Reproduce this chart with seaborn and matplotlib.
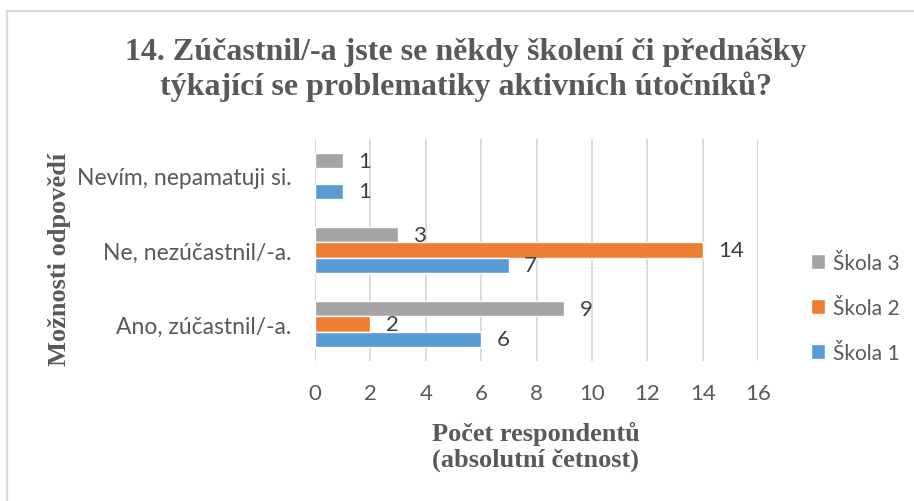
import matplotlib
matplotlib.use("Agg")
import matplotlib.pyplot as plt
import seaborn as sns
import pandas as pd
from matplotlib.patches import Rectangle

# ---- data ----
categories = ["Nevím, nepamatuji si.", "Ne, nezúčastnil/-a.", "Ano, zúčastnil/-a."]
schools = ["Škola 3", "Škola 2", "Škola 1"]
skola1 = [1, 7, 6]
skola2 = [None, 14, 2]
skola3 = [1, 3, 9]
xticks = [0, 2, 4, 6, 8, 10, 12, 14, 16]
title = "14. Zúčastnil/-a jste se někdy školení či přednášky\ntýkající se problematiky aktivních útočníků?"
xlabel = "Počet respondentů\n(absolutní četnost)"
ylabel = "Možnosti odpovědí"
colors = {"Škola 1": "#5B9BD5", "Škola 2": "#ED7D31", "Škola 3": "#A5A5A5"}

rows = []
for school, vals in (("Škola 1", skola1), ("Škola 2", skola2), ("Škola 3", skola3)):
    for c, v in zip(categories, vals):
        if v is not None:
            rows.append({"cat": c, "val": v, "school": school})
df = pd.DataFrame(rows)

sns.set_theme(style="white")
plt.rcParams['font.family'] = ['Lato', 'DejaVu Sans']
TXT = "#595959"
SERIF = ["Liberation Serif", "DejaVu Serif"]

W, H = 914, 502
fig = plt.figure(figsize=(W / 100, H / 100), dpi=100)
ax = fig.add_axes([315 / W, 1 - 362 / H, (758 - 315) / W, (362 - 140) / H])

sns.barplot(data=df, y="cat", x="val", hue="school", order=categories,
            hue_order=schools, palette=colors, orient="h", width=0.62,
            errorbar=None, saturation=1, ax=ax)

for cont in ax.containers:
    ax.bar_label(cont, padding=11, fontsize=16, color="#404040")

ax.set_xlim(0, 16)
ax.set_ylim(2.5, -0.5)
ax.set_xticks(xticks)
ax.set_xticklabels([str(t) for t in xticks])
ax.xaxis.grid(True, color="#D9D9D9", lw=1.3)
ax.yaxis.grid(False)
ax.set_axisbelow(True)
for s in ax.spines.values():
    s.set_visible(False)
ax.tick_params(axis="x", length=0, pad=16, labelsize=16, labelcolor=TXT)
ax.tick_params(axis="y", length=0, pad=17, labelsize=16.5, labelcolor=TXT)
ax.set_xlabel("")
ax.set_ylabel("")

handles, labels = ax.get_legend_handles_labels()
if ax.get_legend() is not None:
    ax.get_legend().remove()
leg = fig.legend(handles, labels, loc="center left",
                 bbox_to_anchor=(792 / W, 1 - 309 / H), frameon=False,
                 fontsize=15, labelspacing=1.2, handlelength=0.7,
                 handleheight=0.7, handletextpad=0.35)
for t in leg.get_texts():
    t.set_color(TXT)

fig.text(466 / W, 1 - 70 / H, title, ha="center", va="center", fontsize=23,
         fontweight="bold", family=SERIF, color=TXT, linespacing=1.2)
fig.text(536 / W, 1 - 447 / H, xlabel, ha="center", va="center", fontsize=19,
         fontweight="bold", family=SERIF, color=TXT, linespacing=1.15)
fig.text(60 / W, 1 - 259 / H, ylabel, ha="center", va="center", fontsize=19,
         fontweight="bold", family=SERIF, color=TXT, rotation=90)

fig.patches.append(Rectangle((7.5 / W, -0.1), 1.2, 1.1 - 11.5 / H,
                             transform=fig.transFigure, fill=False,
                             edgecolor="#D9D9D9", lw=1.6))

fig.savefig("out.png", dpi=100)
